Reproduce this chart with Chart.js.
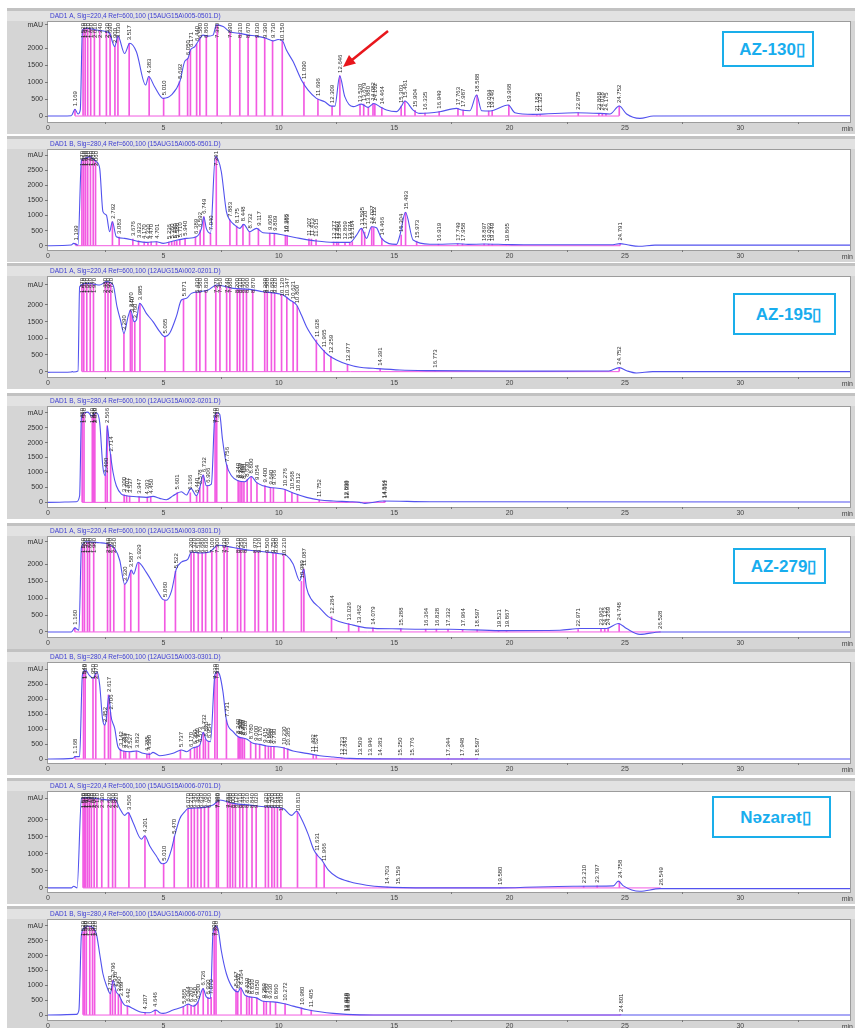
<!DOCTYPE html>
<html>
<head>
<meta charset="utf-8">
<script src="https://cdn.jsdelivr.net/npm/chart.js@4.4.1/dist/chart.umd.min.js"></script>
<style>
html,body{margin:0;padding:0;background:#fff;}
body{width:855px;height:1028px;position:relative;overflow:hidden;font-family:"Liberation Sans",Arial,sans-serif;}
.panel{position:absolute;left:7px;width:848px;height:126px;}
.tag{position:absolute;border:2px solid #1aaeea;background:#fff;color:#18adee;font:bold 17px "Liberation Sans",Arial,sans-serif;display:flex;align-items:center;justify-content:center;box-sizing:border-box;padding-left:8px;white-space:nowrap;}
#arrow{position:absolute;left:0;top:0;pointer-events:none;}
</style>
</head>
<body>
<script>
// Retention-time axis (min) and y tick values
const timeTicks = [0, 5, 10, 15, 20, 25, 30];
const ticksSig220 = [0, 500, 1000, 1500, 2000];
const ticksSig280 = [0, 500, 1000, 1500, 2000, 2500];

const signalTitles = [
  "DAD1 A, Sig=220,4 Ref=600,100 (15AUG15A\\005-0501.D)",
  "DAD1 B, Sig=280,4 Ref=600,100 (15AUG15A\\005-0501.D)",
  "DAD1 A, Sig=220,4 Ref=600,100 (12AUG15A\\002-0201.D)",
  "DAD1 B, Sig=280,4 Ref=600,100 (12AUG15A\\002-0201.D)",
  "DAD1 A, Sig=220,4 Ref=600,100 (12AUG15A\\003-0301.D)",
  "DAD1 B, Sig=280,4 Ref=600,100 (12AUG15A\\003-0301.D)",
  "DAD1 A, Sig=220,4 Ref=600,100 (15AUG15A\\006-0701.D)",
  "DAD1 B, Sig=280,4 Ref=600,100 (15AUG15A\\006-0701.D)"
];
const sampleNames = ["AZ-130\u25AF", "AZ-195\u25AF", "AZ-279\u25AF", "N\u0259zar\u0259t\u25AF"];

// Detector traces: [time (min), absorbance (mAU)]
const trace1 = [[0,0],[1.01,10],[1.17,200],[1.30,60],[1.40,180],[1.49,2530],[1.66,2580],[2.10,2530],[2.53,2480],[2.67,2430],[2.89,2040],[3.03,2350],[3.32,1840],[3.54,2140],[3.83,1890],[4.23,910],[4.36,1160],[4.62,860],[4.99,520],[5.35,620],[5.71,1010],[5.92,1600],[6.07,1700],[6.17,1940],[6.36,2040],[6.50,2190],[6.72,2380],[6.94,2350],[7.15,2380],[7.30,2680],[7.59,2630],[7.88,2480],[8.31,2430],[8.67,2380],[9.03,2350],[9.47,2280],[9.75,2210],[9.97,2250],[10.16,2210],[10.33,1940],[10.62,1600],[10.98,1060],[11.27,760],[11.63,520],[11.99,420],[12.28,290],[12.43,290],[12.64,1180],[12.86,570],[13.22,275],[13.58,350],[13.87,255],[14.12,370],[14.38,275],[14.67,175],[15.10,130],[15.32,295],[15.46,440],[15.82,175],[16.11,78],[16.98,127],[17.70,225],[17.92,176],[18.28,157],[18.57,617],[18.79,157],[19.15,147],[19.94,323],[20.23,98],[21.02,49],[22.90,98],[23.92,78],[24.35,59],[24.75,294],[25.07,59],[25.65,-69],[26.23,0],[34.9,10]];
const trace2 = [[0,0],[1.01,22],[1.11,77],[1.30,22],[1.45,2840],[1.59,2890],[1.81,2950],[1.95,2870],[2.10,2780],[2.24,2560],[2.38,1130],[2.53,1015],[2.67,464],[2.79,795],[2.96,298],[3.32,243],[3.83,155],[4.26,110],[4.70,132],[4.99,77],[5.42,155],[6.0,243],[6.43,298],[6.65,574],[6.75,960],[6.86,574],[7.04,408],[7.25,2950],[7.37,2850],[7.51,2450],[7.73,1130],[7.88,850],[8.09,684],[8.31,574],[8.48,707],[8.74,464],[9.03,574],[9.32,430],[9.75,408],[10.19,353],[10.91,243],[11.63,155],[12.36,110],[13.08,110],[13.37,353],[13.58,574],[13.80,243],[14.02,630],[14.23,596],[14.45,243],[15.10,44],[15.25,353],[15.49,1104],[15.82,188],[16.55,50],[16.92,50],[17.75,65],[18.2,45],[18.9,55],[19.9,40],[21,30],[24.4,30],[24.79,70],[25.1,30],[25.6,-20],[26.3,20],[34.9,20]];
const trace3 = [[0,-20],[1.01,-10],[1.05,0],[1.10,-10],[1.30,20],[1.37,2545],[1.66,2645],[1.95,2625],[2.24,2595],[2.53,2695],[2.82,2595],[2.99,1946],[3.14,1547],[3.29,1148],[3.47,1647],[3.58,1846],[3.73,1497],[3.83,1547],[3.97,2046],[4.26,1747],[4.55,1497],[4.84,1198],[5.06,1048],[5.27,1148],[5.56,1647],[5.78,2146],[6.0,2196],[6.21,2345],[6.58,2395],[6.94,2445],[7.30,2595],[8.02,2495],[8.74,2465],[9.32,2395],[9.90,2345],[10.19,2295],[10.48,2146],[10.77,1996],[10.98,1697],[11.20,1347],[11.56,948],[11.85,699],[12.14,499],[12.50,349],[12.93,230],[13.51,130],[14.09,100],[15.25,50],[16.5,30],[20,15],[24.3,20],[24.752,120],[25.1,20],[25.5,-40],[26.2,0],[34.9,0]];
const trace4 = [[0,0],[1.23,22],[1.37,222],[1.45,2890],[1.59,3000],[1.73,3020],[1.88,2890],[2.10,3000],[2.24,2670],[2.38,1167],[2.49,890],[2.57,2560],[2.67,1833],[2.82,1000],[2.96,555],[3.18,278],[3.39,222],[3.83,189],[4.26,167],[4.55,200],[4.84,133],[5.13,89],[5.42,222],[5.78,355],[6.0,244],[6.19,467],[6.43,222],[6.58,500],[6.72,911],[6.86,555],[7.08,611],[7.23,2890],[7.33,3000],[7.44,2945],[7.56,2110],[7.73,1278],[7.95,890],[8.24,722],[8.53,689],[8.81,867],[9.03,667],[9.32,555],[9.61,500],[10.19,444],[10.62,311],[11.20,167],[11.78,78],[12.36,44],[13.08,22],[13.51,0],[13.73,-33],[14.52,44],[16.55,22],[34.9,10]];
const trace5 = [[0,0],[1.01,0],[1.16,121],[1.34,50],[1.45,2525],[1.66,2677],[2.24,2646],[2.53,2626],[2.89,2475],[3.11,2121],[3.32,1414],[3.47,1565],[3.61,1838],[3.71,1717],[3.90,2070],[4.26,1767],[4.70,1262],[4.99,960],[5.13,940],[5.35,1212],[5.56,1868],[5.78,2070],[6.07,2171],[6.21,2373],[6.58,2343],[7.0,2373],[7.37,2575],[8.02,2505],[8.74,2424],[9.47,2373],[10.04,2323],[10.33,2272],[10.62,2020],[10.91,1515],[11.08,1868],[11.20,1313],[11.42,960],[11.78,707],[12.14,454],[12.64,303],[13.22,202],[13.80,121],[15.25,90],[16.26,81],[17.41,81],[19.58,40],[22.18,50],[23.05,101],[24.2,101],[24.71,252],[25.07,101],[25.65,-71],[26.52,0],[34.97,0]];
const trace6 = [[0,0],[1.08,22],[1.17,78],[1.37,78],[1.49,2800],[1.63,2966],[1.78,2800],[1.95,2690],[2.12,2910],[2.24,2466],[2.36,1355],[2.46,1133],[2.53,1355],[2.64,2133],[2.72,1467],[2.89,1022],[3.03,411],[3.25,267],[3.54,244],[3.83,267],[4.12,189],[4.41,156],[4.55,222],[4.84,111],[5.42,189],[5.78,300],[6.0,244],[6.29,378],[6.58,467],[6.72,889],[6.86,633],[7.04,578],[7.23,2800],[7.33,2910],[7.44,2800],[7.58,2244],[7.73,1300],[8.02,911],[8.24,744],[8.60,667],[8.89,522],[9.18,489],[9.47,433],[9.90,411],[10.19,378],[10.62,267],[11.20,189],[11.78,111],[12.36,67],[13.08,22],[16.55,0],[34.9,0]];
const trace7 = [[0,0],[1.01,0],[1.11,50],[1.26,0],[1.45,2630],[1.66,2650],[2.24,2610],[2.67,2580],[2.89,2610],[3.11,2330],[3.32,2130],[3.47,2210],[3.68,1930],[4.05,1430],[4.19,1530],[4.41,1230],[4.70,930],[4.94,710],[5.13,750],[5.35,1130],[5.49,1530],[5.71,2030],[5.92,2230],[6.07,2330],[6.58,2350],[7.15,2430],[7.44,2580],[8.02,2480],[8.74,2430],[9.47,2380],[10.19,2330],[10.55,2130],[10.77,2250],[10.98,2030],[11.27,1580],[11.52,1110],[11.71,930],[11.85,830],[12.14,530],[12.50,330],[13.08,180],[13.80,80],[14.52,30],[16.55,0],[19.58,0],[22.76,50],[24.5,60],[24.71,200],[24.93,60],[25.65,-100],[26.52,-20],[34.97,-20]];
const trace8 = [[0,0],[1.23,22],[1.34,167],[1.45,2720],[1.59,2940],[1.73,3000],[1.95,2940],[2.10,2720],[2.24,2055],[2.38,1390],[2.53,1000],[2.70,720],[2.82,1165],[2.96,780],[3.08,670],[3.18,500],[3.32,333],[3.47,300],[3.68,222],[3.97,111],[4.41,78],[4.68,167],[4.84,78],[4.99,55],[5.42,167],[5.85,278],[6.07,367],[6.29,300],[6.50,444],[6.72,890],[6.86,611],[7.04,555],[7.15,2780],[7.27,3000],[7.37,2890],[7.51,2165],[7.73,1390],[8.02,890],[8.24,780],[8.34,920],[8.53,667],[8.74,611],[9.03,578],[9.32,467],[9.75,444],[10.19,389],[10.62,300],[11.20,189],[11.78,111],[12.36,55],[12.93,22],[14.09,0],[34.9,0]];

// Integrated peaks: [retention time (min), apex height (mAU)]
const peaks1 = [[1.169,200],[1.52,2550],[1.61,2570],[1.72,2580],[1.85,2560],[2.01,2540],[2.24,2510],[2.53,2480],[2.69,2420],[2.90,2060],[3.03,2350],[3.517,2140],[4.383,1160],[5.01,520],[5.692,1010],[6.05,1700],[6.171,1940],[6.44,2120],[6.58,2300],[6.86,2350],[7.33,2680],[7.89,2480],[8.31,2430],[8.67,2380],[9.03,2350],[9.39,2290],[9.73,2210],[10.15,2210],[11.09,1000],[11.696,500],[12.309,290],[12.646,1180],[13.52,320],[13.679,350],[13.88,255],[14.082,370],[14.162,340],[14.464,250],[15.303,295],[15.461,440],[15.904,170],[16.335,85],[16.949,127],[17.763,225],[17.987,176],[18.588,617],[19.094,147],[19.246,147],[19.968,323],[21.183,49],[21.325,49],[22.975,98],[23.868,78],[24.018,75],[24.175,68],[24.752,294]];
const peaks2 = [[1.199,77],[1.47,2850],[1.55,2880],[1.63,2910],[1.72,2930],[1.84,2940],[1.96,2860],[2.06,2790],[2.792,795],[3.083,290],[3.676,220],[3.923,160],[4.17,120],[4.33,115],[4.47,125],[4.701,130],[5.236,120],[5.36,140],[5.48,150],[5.58,160],[5.71,180],[5.94,230],[6.389,290],[6.592,520],[6.749,960],[7.04,410],[7.291,2950],[7.883,850],[8.175,650],[8.448,707],[8.732,470],[9.117,560],[9.608,420],[9.809,400],[10.286,350],[10.363,340],[11.307,230],[11.413,220],[11.615,200],[12.377,120],[12.507,118],[12.584,115],[12.869,110],[13.074,110],[13.184,130],[13.595,574],[13.72,450],[14.027,630],[14.112,600],[14.466,243],[15.304,353],[15.493,1104],[15.973,150],[16.919,50],[17.749,65],[17.958,55],[18.897,55],[19.093,50],[19.249,48],[19.865,40],[24.791,70]];
const peaks3 = [[1.47,2600],[1.55,2620],[1.68,2640],[1.83,2630],[1.97,2620],[2.48,2690],[2.60,2670],[2.72,2620],[3.29,1150],[3.57,1840],[3.64,1700],[3.76,1500],[3.985,2046],[5.065,1050],[5.871,2170],[6.43,2380],[6.58,2395],[6.83,2430],[7.27,2590],[7.45,2570],[7.74,2530],[7.88,2510],[8.20,2490],[8.31,2480],[8.46,2470],[8.60,2465],[8.87,2440],[9.39,2390],[9.50,2380],[9.68,2365],[9.82,2350],[10.12,2300],[10.347,2230],[10.621,2080],[10.80,1960],[11.628,948],[11.965,640],[12.259,460],[12.977,220],[14.391,85],[16.773,30],[24.752,120]];
const peaks4 = [[1.48,2920],[1.56,2990],[1.92,2900],[1.98,2950],[2.03,2980],[2.49,890],[2.566,2560],[2.714,1600],[3.30,250],[3.407,225],[3.537,210],[3.947,189],[4.303,165],[4.45,185],[5.601,330],[6.166,320],[6.44,222],[6.578,500],[6.732,911],[6.906,555],[7.24,2890],[7.31,3000],[7.756,1250],[8.24,722],[8.32,705],[8.40,695],[8.49,690],[8.63,760],[8.80,865],[9.054,650],[9.40,560],[9.64,495],[9.766,480],[10.276,430],[10.568,330],[10.812,270],[11.752,80],[12.899,24],[12.93,22],[14.564,40],[14.611,40]];
const peaks5 = [[1.16,121],[1.50,2550],[1.58,2600],[1.71,2660],[1.80,2670],[1.98,2660],[2.58,2620],[2.70,2600],[2.85,2500],[3.32,1414],[3.587,1830],[3.929,2060],[5.06,950],[5.522,1800],[6.20,2370],[6.32,2360],[6.51,2345],[6.68,2350],[6.83,2360],[7.10,2390],[7.30,2560],[7.63,2540],[7.76,2530],[8.21,2480],[8.35,2470],[8.52,2450],[8.97,2410],[9.12,2400],[9.50,2370],[9.75,2350],[9.88,2340],[10.21,2290],[10.98,1500],[11.087,1868],[12.284,450],[13.026,250],[13.462,170],[14.079,121],[15.288,92],[16.364,81],[16.828,81],[17.332,78],[17.964,70],[18.597,60],[19.521,42],[19.867,40],[22.971,70],[23.962,101],[24.123,101],[24.269,110],[24.748,252],[26.528,0]];
const peaks6 = [[1.168,78],[1.54,2880],[1.61,2950],[1.95,2690],[2.07,2850],[2.452,1133],[2.617,2133],[2.706,1550],[3.142,330],[3.286,267],[3.364,255],[3.527,244],[3.832,267],[4.285,165],[4.39,200],[5.737,300],[6.17,300],[6.35,390],[6.46,430],[6.573,470],[6.732,889],[6.82,650],[6.954,590],[7.23,2800],[7.33,2910],[7.731,1300],[8.24,744],[8.30,730],[8.36,715],[8.43,700],[8.51,680],[8.78,560],[9.00,510],[9.17,490],[9.415,440],[9.55,425],[9.66,415],[9.79,411],[10.23,378],[10.385,340],[11.492,135],[11.624,120],[12.723,30],[12.843,28],[13.509,15],[13.946,10],[14.383,8],[15.25,5],[15.776,5],[17.344,3],[17.948,3],[18.597,2]];
const peaks7 = [[1.52,2640],[1.57,2645],[1.63,2650],[1.71,2645],[1.79,2640],[1.88,2630],[2.00,2625],[2.12,2615],[2.33,2600],[2.62,2585],[2.80,2600],[2.92,2590],[3.506,2200],[4.201,1530],[5.01,710],[5.470,1500],[6.07,2330],[6.21,2340],[6.34,2345],[6.48,2348],[6.63,2352],[6.78,2370],[6.95,2400],[7.30,2520],[7.38,2570],[7.78,2510],[7.89,2495],[8.00,2480],[8.12,2470],[8.31,2455],[8.44,2445],[8.61,2435],[8.84,2425],[9.02,2410],[9.42,2385],[9.55,2375],[9.70,2365],[9.81,2355],[9.94,2345],[10.09,2335],[10.810,2250],[11.631,1000],[11.966,700],[14.703,25],[15.159,10],[19.580,0],[23.210,50],[23.797,60],[24.758,200],[26.549,-20]];
const peaks8 = [[1.52,2800],[1.58,2940],[1.66,2980],[1.81,2990],[1.93,2950],[2.02,2860],[2.70,720],[2.796,1165],[2.91,850],[3.05,690],[3.169,520],[3.442,300],[4.207,85],[4.646,167],[5.865,278],[6.044,355],[6.20,330],[6.35,340],[6.50,444],[6.726,890],[6.93,590],[7.07,600],[7.20,2900],[7.28,3000],[8.147,860],[8.22,790],[8.364,920],[8.61,650],[8.72,615],[8.83,600],[9.05,575],[9.35,465],[9.46,455],[9.63,445],[9.86,430],[10.272,380],[10.98,240],[11.405,165],[12.92,22],[12.96,22],[13.01,20],[24.801,5]];

const traces = [trace1, trace2, trace3, trace4, trace5, trace6, trace7, trace8];
const peakTables = [peaks1, peaks2, peaks3, peaks4, peaks5, peaks6, peaks7, peaks8];

// Panel layout
const panelTops = [8, 136, 263, 393, 523, 649, 778, 906];
const yRanges = [[-176,2765],[-142,3170],[-160,2835],[-155,3190],[-150,2818],[-133,3200],[-120,2815],[-167,3200]];
const unitTickAt = [2680, 3000, 2600, 3000, 2675, 3000, 2630, 3000];
const tagBoxes = [
  {left:722, top:31, width:92, height:36},
  {left:733, top:293, width:103, height:42},
  {left:733, top:548, width:93, height:36},
  {left:712, top:796, width:119, height:42}
];

Chart.defaults.font.family = '"Liberation Sans", Arial, sans-serif';

const TRACE_COLOR = '#5252ee';
const PEAK_COLOR = '#f25ae2';

const framePlugin = {
  id: 'frame',
  beforeDraw(chart, args, opts) {
    const {ctx, chartArea: ca, width} = chart;
    ctx.save();
    ctx.fillStyle = '#d5d5d5';
    ctx.fillRect(0, 0, width, chart.height);
    ctx.fillStyle = '#c2c2c2';
    ctx.fillRect(0, 0, width, 3);
    ctx.fillStyle = '#e2e2e2';
    ctx.fillRect(0, 3, width, 10);
    ctx.fillStyle = '#ffffff';
    ctx.fillRect(ca.left, ca.top, ca.right - ca.left, ca.bottom - ca.top);
    ctx.strokeStyle = '#9c9c9c';
    ctx.lineWidth = 1;
    ctx.strokeRect(ca.left - 0.5, ca.top - 0.5, ca.right - ca.left + 1, ca.bottom - ca.top + 1);
    ctx.fillStyle = '#3c3cd2';
    ctx.font = '6.5px "Liberation Sans", Arial, sans-serif';
    ctx.textBaseline = 'middle';
    ctx.fillText(opts.title, 43, 8.5);
    ctx.restore();
  },
  afterDraw(chart) {
    const {ctx, chartArea: ca, width} = chart;
    ctx.save();
    ctx.fillStyle = '#444';
    ctx.font = '7px "Liberation Sans", Arial, sans-serif';
    ctx.textAlign = 'right';
    ctx.textBaseline = 'middle';
    ctx.fillText('min', width - 2, ca.bottom + 7);
    ctx.restore();
  }
};

const peakLabelPlugin = {
  id: 'peakLabels',
  afterDatasetsDraw(chart, args, opts) {
    const {ctx, chartArea: ca, scales} = chart;
    ctx.save();
    ctx.beginPath();
    ctx.rect(ca.left, ca.top, ca.right - ca.left, ca.bottom - ca.top);
    ctx.clip();
    ctx.font = '6px "Liberation Sans", Arial, sans-serif';
    ctx.fillStyle = '#2a2a2a';
    ctx.textAlign = 'left';
    ctx.textBaseline = 'middle';
    opts.peaks.forEach(([t, h]) => {
      const label = t.toFixed(3);
      const w = ctx.measureText(label).width;
      const x = scales.x.getPixelForValue(t);
      let y = scales.y.getPixelForValue(h) - 3;
      if (y - w < ca.top + 1) y = ca.top + 1 + w;
      ctx.save();
      ctx.translate(x + 0.5, y);
      ctx.rotate(-Math.PI / 2);
      ctx.fillText(label, 0, 0);
      ctx.restore();
    });
    ctx.restore();
  }
};

traces.forEach((trace, i) => {
  const holder = document.createElement('div');
  holder.className = 'panel';
  holder.style.top = panelTops[i] + 'px';
  const canvas = document.createElement('canvas');
  canvas.width = 848;
  canvas.height = 126;
  holder.appendChild(canvas);
  document.body.appendChild(holder);

  const peaks = peakTables[i];
  const unitAt = unitTickAt[i];
  const yTicks = (i % 2 === 0 ? ticksSig220 : ticksSig280).filter(v => v < unitAt).concat([unitAt]);

  new Chart(canvas, {
    type: 'line',
    data: {
      datasets: [
        {
          type: 'line',
          data: trace.map(([x, y]) => ({x, y})),
          borderColor: TRACE_COLOR,
          borderWidth: 1.1,
          pointRadius: 0,
          cubicInterpolationMode: 'monotone',
          order: 1
        },
        {
          type: 'bar',
          data: peaks.map(([x, y]) => ({x, y})),
          backgroundColor: PEAK_COLOR,
          barThickness: 1,
          grouped: false,
          order: 2
        },
        {
          type: 'line',
          data: [{x: peaks[0][0], y: 0}, {x: peaks[peaks.length - 1][0], y: 0}],
          borderColor: PEAK_COLOR,
          borderWidth: 1,
          pointRadius: 0,
          order: 3
        }
      ]
    },
    options: {
      responsive: false,
      animation: false,
      devicePixelRatio: 1,
      layout: {padding: {top: 14, right: 5, left: 0, bottom: 0}},
      plugins: {
        legend: {display: false},
        tooltip: {enabled: false},
        frame: {title: signalTitles[i]},
        peakLabels: {peaks}
      },
      scales: {
        x: {
          type: 'linear',
          min: 0,
          max: 34.75,
          offset: false,
          afterBuildTicks(s) { s.ticks = timeTicks.map(v => ({value: v})); },
          afterFit(s) { s.height = 12; },
          border: {display: false},
          grid: {display: true, drawOnChartArea: false, tickLength: 2, color: '#777'},
          ticks: {font: {size: 7}, color: '#444', padding: 0, maxRotation: 0, autoSkip: false}
        },
        y: {
          type: 'linear',
          min: yRanges[i][0],
          max: yRanges[i][1],
          afterBuildTicks(s) { s.ticks = yTicks.map(v => ({value: v})); },
          afterFit(s) { s.width = 41; },
          border: {display: false},
          grid: {display: true, drawOnChartArea: false, tickLength: 3, color: '#777'},
          ticks: {
            font: {size: 7},
            color: '#333',
            padding: 2,
            autoSkip: false,
            callback: v => (v === unitAt ? 'mAU' : String(v))
          }
        }
      }
    },
    plugins: [framePlugin, peakLabelPlugin]
  });
});

// Sample name boxes
tagBoxes.forEach((b, k) => {
  const el = document.createElement('div');
  el.className = 'tag';
  el.style.left = b.left + 'px';
  el.style.top = b.top + 'px';
  el.style.width = b.width + 'px';
  el.style.height = b.height + 'px';
  el.textContent = sampleNames[k];
  document.body.appendChild(el);
});
</script>
<svg id="arrow" width="855" height="1028" viewBox="0 0 855 1028">
  <line x1="388" y1="31" x2="352" y2="60" stroke="#e8161c" stroke-width="2.5"/>
  <polygon points="343,67 356,63.5 349,55" fill="#e8161c"/>
</svg>
</body>
</html>
